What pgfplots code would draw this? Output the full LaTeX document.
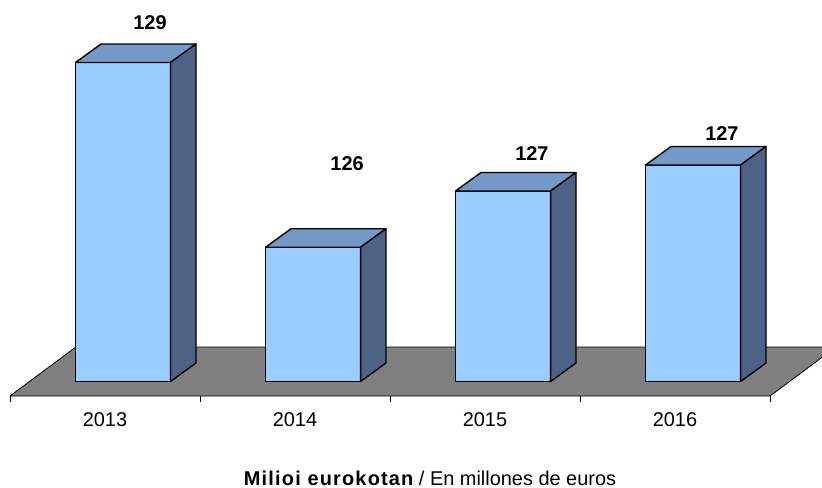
\documentclass[border=0pt]{standalone}
\usepackage{fontspec}
\setmainfont{Liberation Sans}
\usepackage{pgfplots}
\pgfplotsset{compat=1.18}
\definecolor{frontc}{HTML}{99CCFF}
\definecolor{topc}{HTML}{7399C6}
\definecolor{sidec}{HTML}{4D6385}
\definecolor{floorc}{HTML}{808080}
\begin{document}
\begin{tikzpicture}
\begin{axis}[name=ax, scale only axis, width=822bp, height=396bp,
  xmin=-0.0526, xmax=4.2737, ymin=123.239, ymax=130.367,
  axis line style={draw=none}, ytick=\empty,
  xtick={0,1,2,3,4}, xticklabels={},
  xtick pos=left, tick align=outside, major tick length=6bp,
  tick style={black, line width=0.8bp},
  extra x ticks={0.5,1.5,2.5,3.5}, extra x tick labels={2013,2014,2015,2016},
  extra x tick style={major tick length=0pt,
     tick label style={font=\fontsize{20}{24}\selectfont, yshift=-13bp}},
  bar/.style={line width=1.4bp, draw=black, line join=round},
  clip=true]
% floor
\addplot[fill=floorc, draw=black, line width=0.8bp] coordinates {(0,123.239) (4,123.239) (4.347,124.121) (0.347,124.121) (0,123.239)};
% 2013 (129.242)
\addplot[bar, fill=frontc] coordinates {(0.345,123.5) (0.845,123.5) (0.845,129.242) (0.345,129.242) (0.345,123.5)};
\addplot[bar, fill=topc] coordinates {(0.345,129.242) (0.845,129.242) (0.979,129.575) (0.479,129.575) (0.345,129.242)};
\addplot[bar, fill=sidec] coordinates {(0.845,123.5) (0.979,123.833) (0.979,129.575) (0.845,129.242) (0.845,123.5)};
% 2014 (125.916)
\addplot[bar, fill=frontc] coordinates {(1.345,123.5) (1.845,123.5) (1.845,125.916) (1.345,125.916) (1.345,123.5)};
\addplot[bar, fill=topc] coordinates {(1.345,125.916) (1.845,125.916) (1.979,126.249) (1.479,126.249) (1.345,125.916)};
\addplot[bar, fill=sidec] coordinates {(1.845,123.5) (1.979,123.833) (1.979,126.249) (1.845,125.916) (1.845,123.5)};
% 2015 (126.929)
\addplot[bar, fill=frontc] coordinates {(2.345,123.5) (2.845,123.5) (2.845,126.929) (2.345,126.929) (2.345,123.5)};
\addplot[bar, fill=topc] coordinates {(2.345,126.929) (2.845,126.929) (2.979,127.262) (2.479,127.262) (2.345,126.929)};
\addplot[bar, fill=sidec] coordinates {(2.845,123.5) (2.979,123.833) (2.979,127.262) (2.845,126.929) (2.845,123.5)};
% 2016 (127.397)
\addplot[bar, fill=frontc] coordinates {(3.345,123.5) (3.845,123.5) (3.845,127.397) (3.345,127.397) (3.345,123.5)};
\addplot[bar, fill=topc] coordinates {(3.345,127.397) (3.845,127.397) (3.979,127.730) (3.479,127.730) (3.345,127.397)};
\addplot[bar, fill=sidec] coordinates {(3.845,123.5) (3.979,123.833) (3.979,127.730) (3.845,127.397) (3.845,123.5)};
% value labels
\addplot[draw=none, mark=none, nodes near coords, point meta=explicit symbolic,
  nodes near coords style={anchor=center, font=\fontsize{20}{24}\selectfont\bfseries}]
  coordinates {(0.737,129.962)[129] (1.774,127.424)[126] (2.747,127.604)[127] (3.747,127.964)[127]};
\end{axis}
\path (ax.south west) ++(430bp,-82bp) node[font=\fontsize{20}{24}\selectfont, anchor=center]
  {{\addfontfeature{LetterSpace=6}\bfseries Milioi eurokotan} / En millones de euros};
\pgfresetboundingbox
\path[use as bounding box] (ax.south west) ++(0,-92bp) rectangle (ax.north east);
\end{tikzpicture}
\end{document}
